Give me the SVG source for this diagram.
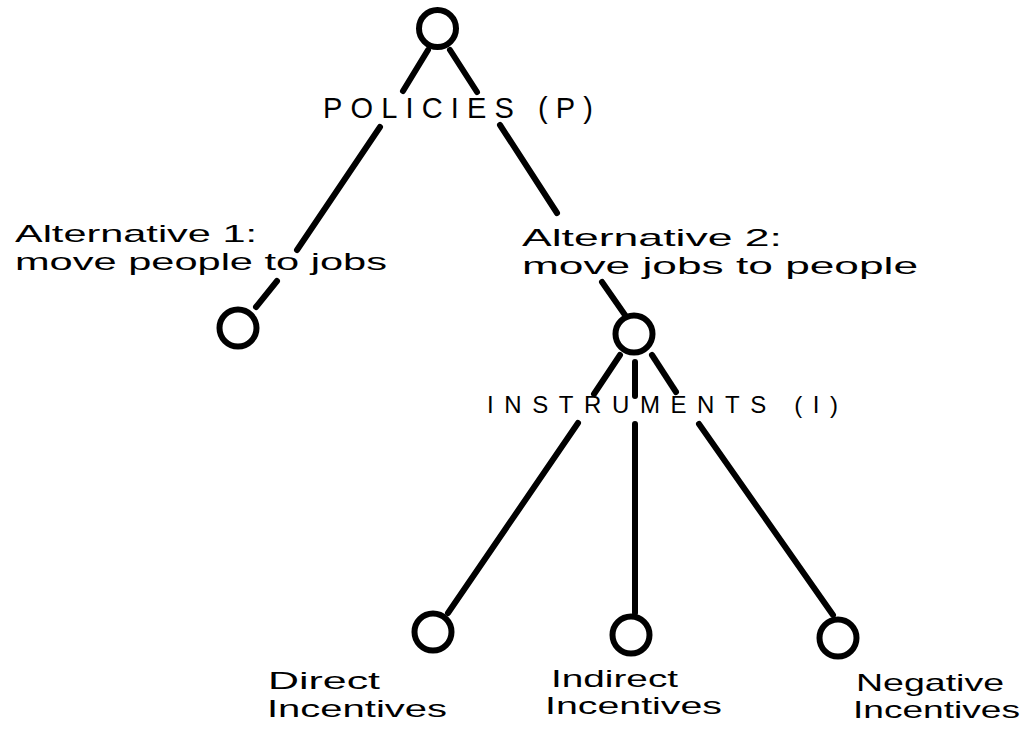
<svg xmlns="http://www.w3.org/2000/svg" width="1031" height="734" viewBox="0 0 1031 734">
  <style>
    .node { fill: none; stroke: #000; stroke-width: 6; }
    .edge { fill: none; stroke: #000; stroke-width: 6; stroke-linecap: round; }
    .caps { font-family: "Liberation Sans", Arial, sans-serif; fill: #000; }
    .hand { font-family: "Liberation Sans", Arial, sans-serif; fill: #000; font-size: 24px; }
  </style>
  <rect width="1031" height="734" fill="#fff"/>
  <g id="connectors">
    <line class="edge" x1="428" y1="50" x2="403" y2="91"/>
    <line class="edge" x1="450" y1="50" x2="477" y2="92"/>
    <line class="edge" x1="380" y1="127" x2="297" y2="250"/>
    <line class="edge" x1="277" y1="281" x2="256" y2="307"/>
    <line class="edge" x1="500" y1="125" x2="557" y2="213"/>
    <line class="edge" x1="602" y1="282" x2="625" y2="315"/>
    <line class="edge" x1="620" y1="355" x2="594" y2="394"/>
    <line class="edge" x1="635" y1="362" x2="635" y2="396"/>
    <line class="edge" x1="652" y1="355" x2="676" y2="392"/>
    <line class="edge" x1="578" y1="423" x2="448" y2="613"/>
    <line class="edge" x1="635" y1="424" x2="635" y2="613"/>
    <line class="edge" x1="699" y1="424" x2="833" y2="615"/>
  </g>
  <g id="node-root">
    <circle class="node" cx="437.5" cy="28.5" r="18.5"/>
  </g>
  <g id="label-policies">
    <text class="caps" x="323" y="118" font-size="29" textLength="270" lengthAdjust="spacing">POLICIES (P)</text>
  </g>
  <g id="node-alt1">
    <text class="hand" x="15" y="242" textLength="242" lengthAdjust="spacingAndGlyphs">Alternative 1:</text>
    <text class="hand" x="15" y="270" textLength="372" lengthAdjust="spacingAndGlyphs">move people to jobs</text>
    <circle class="node" cx="238" cy="328" r="18.5"/>
  </g>
  <g id="node-alt2">
    <text class="hand" x="522" y="246" textLength="260" lengthAdjust="spacingAndGlyphs">Alternative 2:</text>
    <text class="hand" x="522" y="274" textLength="396" lengthAdjust="spacingAndGlyphs">move jobs to people</text>
    <circle class="node" cx="634" cy="334" r="18.5"/>
  </g>
  <g id="label-instruments">
    <text class="caps" x="487" y="413" font-size="24" textLength="351" lengthAdjust="spacing">INSTRUMENTS (I)</text>
  </g>
  <g id="node-direct">
    <circle class="node" cx="433" cy="632" r="18.5"/>
    <text class="hand" x="268" y="689" textLength="112" lengthAdjust="spacingAndGlyphs">Direct</text>
    <text class="hand" x="267" y="717" textLength="180" lengthAdjust="spacingAndGlyphs">Incentives</text>
  </g>
  <g id="node-indirect">
    <circle class="node" cx="631" cy="635" r="18.5"/>
    <text class="hand" x="551" y="687" textLength="127" lengthAdjust="spacingAndGlyphs">Indirect</text>
    <text class="hand" x="545" y="714" textLength="177" lengthAdjust="spacingAndGlyphs">Incentives</text>
  </g>
  <g id="node-negative">
    <circle class="node" cx="838" cy="638" r="18.5"/>
    <text class="hand" x="856" y="691" textLength="148" lengthAdjust="spacingAndGlyphs">Negative</text>
    <text class="hand" x="853" y="718" textLength="167" lengthAdjust="spacingAndGlyphs">Incentives</text>
  </g>
</svg>
